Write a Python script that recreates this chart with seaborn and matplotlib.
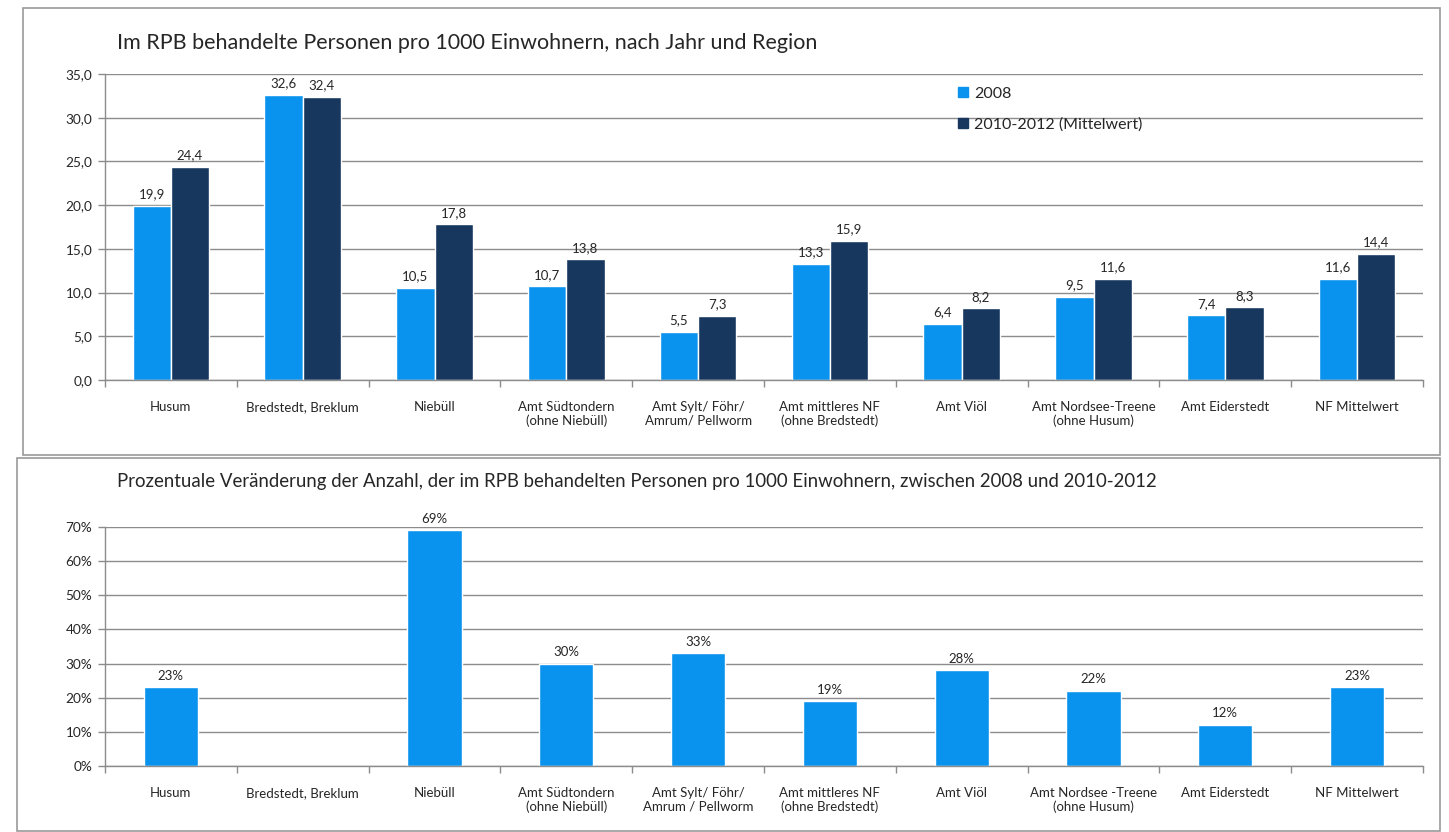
import numpy as np
import pandas as pd
import matplotlib
matplotlib.use("Agg")
import matplotlib.pyplot as plt
from matplotlib.patches import Rectangle
from matplotlib.ticker import FixedLocator, FuncFormatter
import seaborn as sns

regions = ["Husum", "Bredstedt, Breklum", "Niebüll", "Amt Südtondern\n(ohne Niebüll)",
           "Amt Sylt/ Föhr/\nAmrum/ Pellworm", "Amt mittleres NF\n(ohne Bredstedt)", "Amt Viöl",
           "Amt Nordsee-Treene\n(ohne Husum)", "Amt Eiderstedt", "NF Mittelwert"]
regions_bottom = ["Husum", "Bredstedt, Breklum", "Niebüll", "Amt Südtondern\n(ohne Niebüll)",
                  "Amt Sylt/ Föhr/\nAmrum / Pellworm", "Amt mittleres NF\n(ohne Bredstedt)", "Amt Viöl",
                  "Amt Nordsee -Treene\n(ohne Husum)", "Amt Eiderstedt", "NF Mittelwert"]
series_names = ["2008", "2010-2012 (Mittelwert)"]
values_2008 = [19.9, 32.6, 10.5, 10.7, 5.5, 13.3, 6.4, 9.5, 7.4, 11.6]
values_2010_2012 = [24.4, 32.4, 17.8, 13.8, 7.3, 15.9, 8.2, 11.6, 8.3, 14.4]
pct_change = [23, np.nan, 69, 30, 33, 19, 28, 22, 12, 23]

title_top = "Im RPB behandelte Personen pro 1000 Einwohnern, nach Jahr und Region"
title_bottom = ("Prozentuale Veränderung der Anzahl, der im RPB behandelten Personen pro 1000 Einwohnern, "
                "zwischen 2008 und 2010-2012")

light = "#0A93EE"
dark = "#17375E"
grid_c = "#8C8C8C"
text_c = "#262626"

sns.set_theme(style="white")
plt.rcParams["font.family"] = ["Lato", "DejaVu Sans"]

fig = plt.figure(figsize=(14.49, 8.32), dpi=100)
W, H = 1449, 832

def fx(x): return x / W
def fy(y): return 1 - y / H

# panel frames
fig.patches.append(Rectangle((fx(23), fy(455)), fx(1440) - fx(23), fy(8) - fy(455),
                             transform=fig.transFigure, fill=False, ec="#9A9A9A", lw=1.2))
fig.patches.append(Rectangle((fx(17), fy(831)), fx(1440) - fx(17), fy(458) - fy(831),
                             transform=fig.transFigure, fill=False, ec="#9A9A9A", lw=1.2))

# ---------- top chart ----------
df_top = pd.DataFrame({
    "Region": regions * 2,
    "Serie": [series_names[0]] * len(regions) + [series_names[1]] * len(regions),
    "Wert": values_2008 + values_2010_2012,
})
ax1 = fig.add_axes([fx(105), fy(380), fx(1423) - fx(105), fy(74) - fy(380)])
sns.barplot(data=df_top, x="Region", y="Wert", hue="Serie", order=regions,
            hue_order=series_names, palette=[light, dark], width=0.58,
            saturation=1, ax=ax1, errorbar=None, legend=True)
ax1.set_ylim(0, 35)
ax1.set_xlim(-0.5, len(regions) - 0.5)
ax1.yaxis.set_major_locator(FixedLocator(np.arange(0, 35.1, 5)))
ax1.yaxis.set_major_formatter(FuncFormatter(lambda v, p: f"{v:.1f}".replace(".", ",")))
for c in ax1.containers:
    labels = [f"{b.get_height():.1f}".replace(".", ",") for b in c]
    ax1.bar_label(c, labels=labels, padding=4, fontsize=9.5, color=text_c)

# ---------- bottom chart ----------
df_bot = pd.DataFrame({"Region": regions_bottom, "Veränderung": pct_change})
ax2 = fig.add_axes([fx(105), fy(766), fx(1423) - fx(105), fy(527) - fy(766)])
sns.barplot(data=df_bot, x="Region", y="Veränderung", order=regions_bottom, color=light,
            width=0.41, saturation=1, ax=ax2, errorbar=None)
ax2.set_ylim(0, 70)
ax2.set_xlim(-0.5, len(regions) - 0.5)
ax2.yaxis.set_major_locator(FixedLocator(np.arange(0, 70.1, 10)))
ax2.yaxis.set_major_formatter(FuncFormatter(lambda v, p: f"{v:.0f}%"))
for c in ax2.containers:
    labels = ["" if np.isnan(b.get_height()) else f"{b.get_height():.0f}%" for b in c]
    ax2.bar_label(c, labels=labels, padding=4, fontsize=9.5, color=text_c)

for ax in (ax1, ax2):
    ax.set_xlabel("")
    ax.set_ylabel("")
    ax.set_axisbelow(True)
    ax.grid(axis="y", color=grid_c, lw=1)
    ax.grid(axis="x", visible=False)
    for s in ("top", "right"):
        ax.spines[s].set_visible(False)
    for s in ("left", "bottom"):
        ax.spines[s].set_visible(True)
        ax.spines[s].set_color(grid_c)
        ax.spines[s].set_linewidth(1)
    ax.set_xticks(np.arange(-0.5, len(regions)), minor=True)
    ax.tick_params(axis="x", which="major", length=0, pad=15, labelsize=9.5, labelcolor=text_c)
    ax.tick_params(axis="x", which="minor", length=5, color=grid_c, width=1, bottom=True)
    ax.tick_params(axis="y", which="major", length=5, color=grid_c, width=1, left=True,
                   labelsize=9.8, labelcolor=text_c, pad=4)
    for t in ax.get_xticklabels():
        t.set_verticalalignment("top")
        t.set_multialignment("center")

ax1.legend_.remove()
handles = [Rectangle((0, 0), 1, 1, color=light), Rectangle((0, 0), 1, 1, color=dark)]
fig.legend(handles, series_names, loc="upper left", bbox_to_anchor=(fx(958), fy(87)),
           frameon=False, fontsize=11.5, handlelength=0.6, handleheight=0.6,
           handletextpad=0.4, labelspacing=1.0, borderaxespad=0, borderpad=0)

fig.text(fx(117), fy(43), title_top, fontsize=15.5, color=text_c, va="center", ha="left")
fig.text(fx(117), fy(481), title_bottom, fontsize=13.4, color=text_c, va="center", ha="left")

fig.savefig("out.png", dpi=100, facecolor="white")
